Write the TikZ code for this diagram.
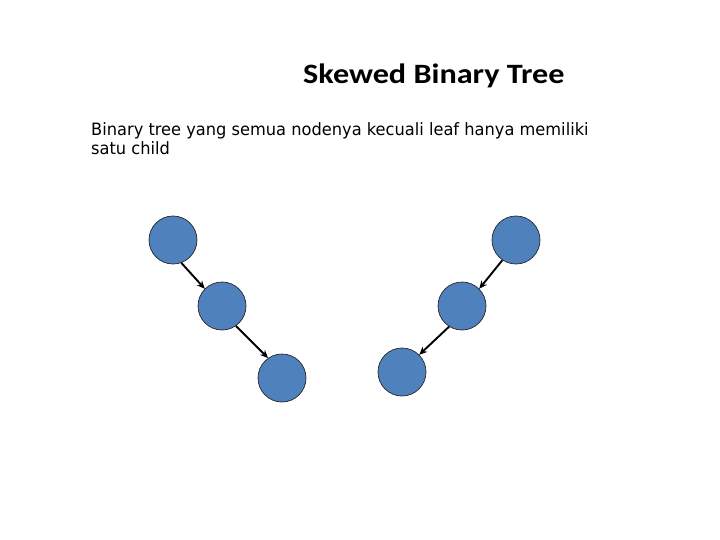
\documentclass[tikz,border=0pt]{standalone}
\usepackage{fontspec}
\setmainfont{Carlito}
\newfontfamily\bodyfont{DejaVu Sans}
\usetikzlibrary{arrows.meta}
\definecolor{nodeblue}{HTML}{4F81BD}
\begin{document}
\begin{tikzpicture}[x=1pt,y=-1pt,
  treenode/.style={circle,fill=nodeblue,draw=black!85,line width=0.7pt,minimum size=48pt,inner sep=0pt},
  link/.style={-{Stealth[length=8pt,width=7pt]},line width=1.9pt,black}]
\useasboundingbox (0,0) rectangle (720,540);
\node[anchor=base west,font=\fontsize{28}{32}\selectfont\bfseries,inner sep=0pt] (title) at (303,84) {\scalebox{1.15}[1]{Skewed Binary Tree}};
\node[anchor=base west,inner sep=0pt] (desc) at (91,155) {\scalebox{0.955}[1]{\parbox[b]{560pt}{\bodyfont\fontsize{17}{19}\selectfont Binary tree yang semua nodenya kecuali leaf hanya memiliki\\satu child}}};
\node[treenode] (l1) at (173,240) {};
\node[treenode] (l2) at (222,306) {};
\node[treenode] (l3) at (282,378) {};
\node[treenode] (r1) at (516,240) {};
\node[treenode] (r2) at (462,306) {};
\node[treenode] (r3) at (402,372) {};
\draw[link] (l1.-70) -- (l2.135);
\draw[link] (l2.-55) -- (l3.125);
\draw[link] (r1.236) -- (r2.45);
\draw[link] (r2.238) -- (r3.45);
\end{tikzpicture}
\end{document}
